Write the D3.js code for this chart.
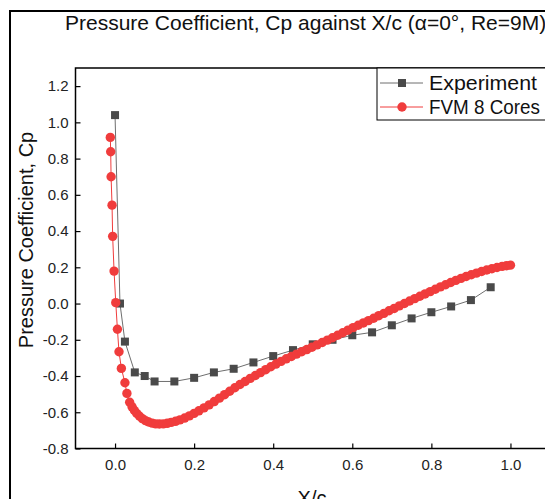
<!DOCTYPE html>
<html>
<head>
<meta charset="utf-8">
<script src="https://cdn.jsdelivr.net/npm/d3@7"></script>
<style>
  body { margin: 0; background: #fff; }
  svg { display: block; font-family: Arial, "Liberation Sans", sans-serif; }
</style>
</head>
<body>
<svg id="mainsvg" width="545" height="499"></svg>
<script>
// Experiment (squares)
const expX  = [0, 0.0125, 0.025, 0.05, 0.075, 0.1, 0.15, 0.2, 0.25, 0.3, 0.35, 0.4, 0.45, 0.5,
               0.55, 0.6, 0.65, 0.7, 0.75, 0.8, 0.85, 0.9, 0.95];
const expCp = [1.04, 0.0, -0.21, -0.38, -0.40, -0.43, -0.43, -0.41, -0.38, -0.36, -0.325, -0.29, -0.257, -0.225,
               -0.2, -0.175, -0.159, -0.12, -0.082, -0.048, -0.016, 0.019, 0.09];

// FVM 8 cores (circles)
const fvmX  = [-0.012, -0.011, -0.010, -0.0076, -0.006, -0.0025, 0.0018, 0.006, 0.010, 0.016, 0.025, 0.030, 0.037,
               0.043, 0.049, 0.055, 0.062, 0.069, 0.077, 0.085, 0.094, 0.103, 0.112, 0.122, 0.132, 0.142, 0.153,
               0.164, 0.176, 0.188, 0.2, 0.212, 0.225, 0.238, 0.251, 0.264, 0.277, 0.29, 0.303, 0.316, 0.329,
               0.342, 0.355, 0.368, 0.381, 0.394, 0.407, 0.42, 0.433, 0.446, 0.459, 0.472, 0.485, 0.498, 0.511,
               0.524, 0.537, 0.55, 0.563, 0.576, 0.589, 0.602, 0.615, 0.628, 0.641, 0.654, 0.667, 0.68, 0.693,
               0.706, 0.719, 0.732, 0.745, 0.758, 0.771, 0.784, 0.797, 0.81, 0.823, 0.836, 0.849, 0.862, 0.875,
               0.888, 0.901, 0.914, 0.927, 0.94, 0.953, 0.966, 0.979, 0.99, 1.0];
const fvmCp = [0.917, 0.838, 0.70, 0.543, 0.371, 0.179, 0.005, -0.142, -0.266, -0.358, -0.437, -0.496, -0.545,
               -0.57, -0.59, -0.607, -0.622, -0.635, -0.646, -0.654, -0.66, -0.664, -0.665, -0.664, -0.661, -0.656, -0.65,
               -0.642, -0.632, -0.62, -0.606, -0.592, -0.576, -0.559, -0.541, -0.522, -0.503, -0.484, -0.465, -0.447, -0.43,
               -0.413, -0.397, -0.381, -0.365, -0.349, -0.334, -0.319, -0.305, -0.292, -0.279, -0.266, -0.254, -0.241, -0.228,
               -0.215, -0.202, -0.189, -0.175, -0.161, -0.147, -0.133, -0.12, -0.107, -0.094, -0.081, -0.067, -0.054, -0.04,
               -0.027, -0.013, 0.0, 0.014, 0.027, 0.04, 0.053, 0.066, 0.079, 0.092, 0.104, 0.116, 0.128, 0.139,
               0.149, 0.159, 0.168, 0.177, 0.185, 0.192, 0.199, 0.205, 0.209, 0.212];

const xTicks = [0, 0.2, 0.4, 0.6, 0.8, 1.0];
const yTicks = [-0.8, -0.6, -0.4, -0.2, 0, 0.2, 0.4, 0.6, 0.8, 1.0, 1.2];
const seriesNames = ['Experiment', 'FVM 8 Cores'];
const seriesColors = ['#4a4a4a', '#f03c3c'];
const lineColors = ['#6e6e6e', '#f03c3c'];

var svg = d3.select('#mainsvg'),
    margin = {top: 68, left: 75.5, bottom: 448.5, right: 550};

var x = d3.scaleLinear().domain([-0.1, 1.1]).range([margin.left, margin.right]);
var y = d3.scaleLinear().domain([-0.8, 1.3]).range([margin.bottom, margin.top]);

// outer frame
svg.append('rect')
    .attr('x', 10).attr('y', 11).attr('width', 600).attr('height', 600)
    .attr('fill', 'none').attr('stroke', '#000').attr('stroke-width', 2);

// title
svg.append('text')
    .attr('x', 65).attr('y', 30)
    .attr('font-size', 21).attr('fill', '#111')
    .text('Pressure Coefficient, Cp against X/c (α=0°, Re=9M)');

// plot frame
svg.append('rect')
    .attr('x', margin.left).attr('y', margin.top)
    .attr('width', margin.right - margin.left).attr('height', margin.bottom - margin.top)
    .attr('fill', 'none').attr('stroke', '#000').attr('stroke-width', 1.5);

var xAxis = svg.append('g')
    .attr('transform', 'translate(0,' + margin.bottom + ')')
    .call(d3.axisBottom(x).tickValues(xTicks).tickSize(-5).tickPadding(11)
        .tickFormat(d => d.toFixed(1)));
var yAxis = svg.append('g')
    .attr('transform', 'translate(' + margin.left + ',0)')
    .call(d3.axisLeft(y).tickValues(yTicks).tickSize(-5).tickPadding(7)
        .tickFormat(d => d.toFixed(1)));

[xAxis, yAxis].forEach(function(a) {
    a.select('.domain').remove();
    a.selectAll('line').attr('stroke', '#000').attr('stroke-width', 1.2);
    a.selectAll('text').attr('font-size', 15).attr('fill', '#222')
        .attr('font-family', 'Arial, "Liberation Sans", sans-serif');
});

// axis titles
svg.append('text')
    .attr('transform', 'translate(33,240) rotate(-90)')
    .attr('text-anchor', 'middle')
    .attr('font-size', 20).attr('fill', '#111')
    .text('Pressure Coefficient, Cp');
svg.append('text')
    .attr('x', 312).attr('y', 505)
    .attr('text-anchor', 'middle')
    .attr('font-size', 20).attr('fill', '#111')
    .text('X/c');

var plot = svg.append('g');
var expData = expX.map((d, i) => ({x: d, y: expCp[i]}));
var fvmData = fvmX.map((d, i) => ({x: d, y: fvmCp[i]}));
var line = d3.line().x(d => x(d.x)).y(d => y(d.y));

// experiment
plot.append('path').datum(expData)
    .attr('d', line).attr('fill', 'none')
    .attr('stroke', lineColors[0]).attr('stroke-width', 1);
plot.append('g').selectAll('rect')
    .data(expData).enter().append('rect')
    .attr('x', d => x(d.x) - 4).attr('y', d => y(d.y) - 4)
    .attr('width', 8).attr('height', 8)
    .attr('fill', seriesColors[0]);

// FVM
plot.append('path').datum(fvmData)
    .attr('d', line).attr('fill', 'none')
    .attr('stroke', lineColors[1]).attr('stroke-width', 1);
plot.append('g').selectAll('circle')
    .data(fvmData).enter().append('circle')
    .attr('cx', d => x(d.x)).attr('cy', d => y(d.y))
    .attr('r', 4.7)
    .attr('fill', seriesColors[1]);

// legend
var lg = svg.append('g');
lg.append('rect')
    .attr('x', 377).attr('y', margin.top).attr('width', 200).attr('height', 52)
    .attr('fill', '#fff').attr('stroke', '#000').attr('stroke-width', 1);
const legendWidths = [108, 111];
seriesNames.forEach(function(name, i) {
    var ly = 83 + i * 24;
    lg.append('line').attr('x1', 380).attr('x2', 423).attr('y1', ly).attr('y2', ly)
        .attr('stroke', lineColors[i]).attr('stroke-width', 1);
    if (i == 0) {
        lg.append('rect').attr('x', 398).attr('y', ly - 4).attr('width', 8).attr('height', 8)
            .attr('fill', seriesColors[i]);
    } else {
        lg.append('circle').attr('cx', 402).attr('cy', ly).attr('r', 4.7)
            .attr('fill', seriesColors[i]);
    }
    lg.append('text').attr('x', 429).attr('y', ly + 7)
        .attr('font-size', 20).attr('fill', '#111')
        .attr('textLength', legendWidths[i]).attr('lengthAdjust', 'spacingAndGlyphs')
        .text(name);
});
</script>
</body>
</html>
